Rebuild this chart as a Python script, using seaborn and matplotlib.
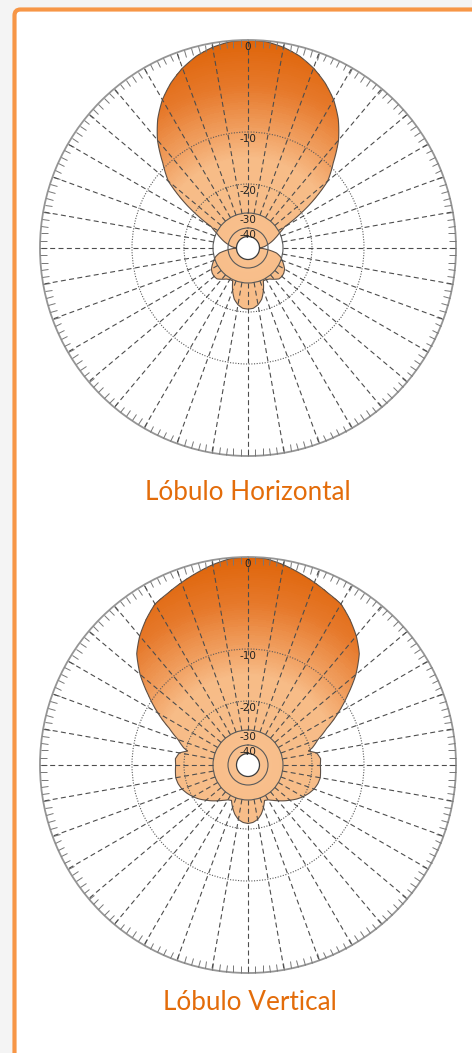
import numpy as np
import matplotlib
matplotlib.use('Agg')
import matplotlib.pyplot as plt
from matplotlib.colors import LinearSegmentedColormap
from matplotlib.patches import FancyBboxPatch, PathPatch
from matplotlib.path import Path
from matplotlib.transforms import IdentityTransform
import seaborn as sns

# diagramas de radiacion: angulo (grados, horario desde arriba) y nivel (dB)
# solo la mitad derecha, el diagrama es simetrico
ang_h = [0, 5, 10, 15, 20, 25, 30, 35, 40, 45, 50, 55, 60, 65, 70, 75, 80, 85, 90,
         95, 100, 105, 110, 115, 120, 125, 130, 135, 140, 145, 150, 155, 160, 165,
         170, 175, 180]
db_h = [0, -0.1, -0.45, -1.0, -1.8, -2.8, -4.0, -5.5, -7.3, -9.5, -12.3, -18.0,
        -27.5, -30.5, -34, -37, -40, -44, -50,
        -40, -34, -31, -29.5, -28.5, -27.5, -27, -26.8, -27, -28, -29, -29.5,
        -29.6, -26.5, -23.8, -22.2, -21.2, -21]

ang_v = [0, 5, 10, 15, 20, 25, 30, 35, 40, 45, 50, 55, 60, 65, 70, 75, 77, 80, 85,
         90, 95, 100, 105, 110, 115, 120, 125, 130, 135, 140, 145, 150, 155, 160,
         165, 170, 175, 180]
db_v = [0, -0.1, -0.5, -1.0, -1.5, -2.0, -2.4, -3.3, -4.3, -5.5, -7.3, -9.4,
        -12.3, -15.6, -18.0, -19.5, -20.7, -18.9, -18.3,
        -18.4, -18.3, -18.2, -18.4, -18.8, -19.4, -20.2, -21.6, -23.2, -24.6,
        -26.0, -27.2, -28.2, -28.6, -26.5, -24.5, -23.0, -22.2, -21.9]

ring_db = [0, -10, -20, -30, -40]
ring_labels = ['0', '-10', '-20', '-30', '-40']
titles = ['Lóbulo Horizontal', 'Lóbulo Vertical']

# escala radial no lineal (dB -> radio en px del original)
knots_db = [-1060, -60, -50, -40, -30, -20, -10, 0, 1000]
knots_px = [-1000, 0, 11.5, 20, 35, 64, 116, 208, 9408]


def fwd(x):
    return np.interp(x, knots_db, knots_px)


def inv(y):
    return np.interp(y, knots_px, knots_db)


sns.set_theme(style='white')
lobe_cmap = LinearSegmentedColormap.from_list(
    'lobe', [(0, '#F8C08E'), (0.7, '#F7BC87'), (0.8, '#F1A264'),
             (0.9, '#E6792B'), (1, '#DF650A')])

fig = plt.figure(figsize=(4.72, 10.53), dpi=100, facecolor='#F4F4F4')
fig.add_artist(FancyBboxPatch((14.5, -40), 600, 1043.5 + 40,
                              boxstyle='round,pad=0,rounding_size=6',
                              transform=IdentityTransform(), facecolor='white',
                              edgecolor='#F79646', linewidth=3, zorder=-1))


def draw_lobe(ax, ang, db):
    ang = np.array(ang, dtype=float)
    db = np.array(db, dtype=float)
    theta = np.deg2rad(np.r_[ang, 360 - ang[-2::-1]])
    r = np.r_[db, db[-2::-1]]

    ax.set_theta_zero_location('N')
    ax.set_theta_direction(-1)
    ax.set_rscale('function', functions=(fwd, inv))
    ax.patch.set_facecolor('none')

    # contorno del diagrama (interpolado en polar por matplotlib)
    verts = np.vstack([np.c_[theta, r], [[theta[0], r[0]]]])
    codes = [Path.MOVETO] + [Path.LINETO] * (len(theta) - 1) + [Path.CLOSEPOLY]
    outline = PathPatch(Path(verts, codes, _interpolation_steps=12),
                        facecolor='none', edgecolor='#5E5046', linewidth=0.8,
                        zorder=1.6)
    ax.add_patch(outline)

    # relleno degradado recortado al diagrama
    tt = np.deg2rad(np.linspace(0, 360, 361))
    rr = np.linspace(-50, 0, 201)
    cc = np.tile(((rr[:-1] + rr[1:]) / 2)[:, None], (1, 360))
    mesh = ax.pcolormesh(tt, rr, cc, cmap=lobe_cmap, vmin=-50, vmax=0,
                         shading='flat', zorder=1)
    mesh.set_clip_path(outline)

    ax.set_ylim(-50, 0)
    ax.set_rorigin(-60)

    # circulos de nivel
    ax.set_yticks([-40, -30, -20, -10])
    ax.set_yticklabels([])
    ax.tick_params(axis='y', length=0)
    ax.set_axisbelow(False)
    ax.yaxis.grid(True, color='#5a5a5a', linewidth=0.8)
    ax.xaxis.grid(False)
    for gl, ls in zip(ax.yaxis.get_gridlines(),
                      ['-', '-', (0, (1, 1.4)), (0, (1, 1.4))]):
        gl.set_linestyle(ls)

    # radios cada 10 grados
    ax.vlines(np.deg2rad(np.arange(0, 360, 10)), -30, 0, colors='#4d4d4d',
              linestyles=(0, (4.5, 3)), linewidth=0.8, zorder=2.6)

    # marcas en el anillo exterior
    ax.set_xticks(np.deg2rad(np.arange(0, 360, 10)))
    ax.set_xticks(np.deg2rad(np.arange(0, 360, 2)), minor=True)
    ax.set_xticklabels([])
    ax.tick_params(axis='x', which='both', bottom=False, top=True,
                   labeltop=False, direction='in', length=5, width=0.7,
                   color='#777777', pad=0)
    ax.spines['polar'].set_color('#959595')
    ax.spines['polar'].set_linewidth(1.3)
    ax.spines['inner'].set_color('#3c3c3c')
    ax.spines['inner'].set_linewidth(0.9)

    for v, s in zip(ring_db, ring_labels):
        ax.annotate(s, xy=(0, v), xytext=(0, -1.5), textcoords='offset points',
                    ha='center', va='top', fontsize=7.5, color='#222222',
                    zorder=5)


ax1 = fig.add_axes([40 / 472, 1 - 456 / 1053, 416 / 472, 416 / 1053],
                   projection='polar')
draw_lobe(ax1, ang_h, db_h)
ax2 = fig.add_axes([40 / 472, 1 - 973 / 1053, 416 / 472, 416 / 1053],
                   projection='polar')
draw_lobe(ax2, ang_v, db_v)

fig.text(248 / 472, 1 - 492 / 1053, titles[0], ha='center', va='center',
         fontsize=18.8, color='#E36C0A', family=['Lato', 'DejaVu Sans'])
fig.text(250 / 472, 1 - 1003 / 1053, titles[1], ha='center', va='center',
         fontsize=18.8, color='#E36C0A', family=['Lato', 'DejaVu Sans'])

fig.savefig('out.png', dpi=100, facecolor=fig.get_facecolor())
